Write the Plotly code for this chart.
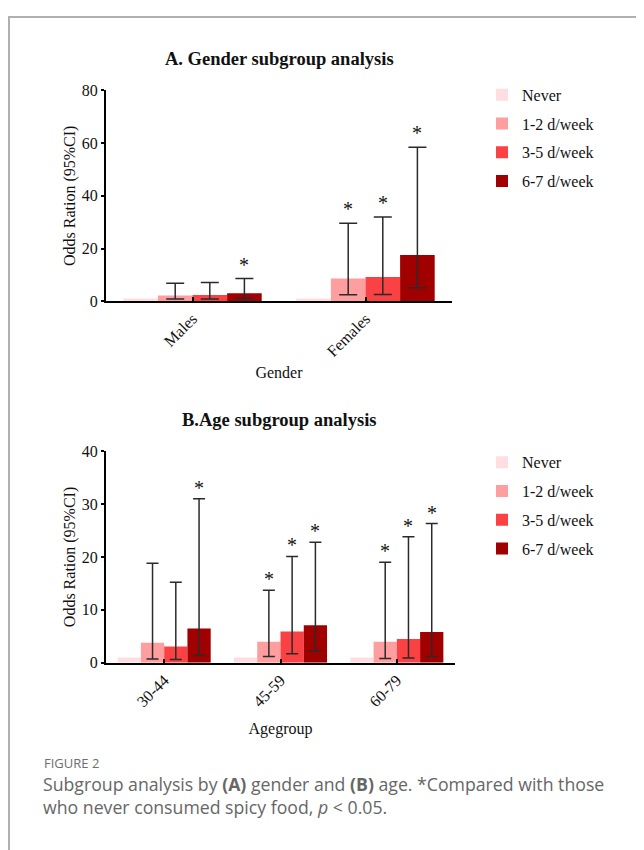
import plotly.graph_objects as go

# ---------------- data ----------------
series = ["Never", "1-2 d/week", "3-5 d/week", "6-7 d/week"]
colors = ["#FFDDE0", "#FF9E9E", "#FA4245", "#A00000"]

gender_cats = ["Males", "Females"]
gender_or = [[1.0, 1.0], [2.2, 8.6], [2.3, 9.2], [3.0, 17.5]]
gender_lo = [[None, None], [0.8, 2.4], [0.8, 2.5], [1.0, 5.1]]
gender_hi = [[None, None], [6.8, 29.6], [7.1, 32.0], [8.6, 58.4]]
gender_sig = [[False, False], [False, True], [False, True], [True, True]]

age_cats = ["30-44", "45-59", "60-79"]
age_or = [[1.0, 1.0, 1.0], [3.8, 4.0, 4.0], [3.1, 5.9, 4.5], [6.5, 7.1, 5.8]]
age_lo = [[None, None, None], [0.7, 1.2, 0.8], [0.6, 1.7, 0.9], [1.4, 2.2, 1.2]]
age_hi = [[None, None, None], [18.8, 13.7, 19.0], [15.2, 20.1, 23.8], [31.0, 22.8, 26.3]]
age_sig = [[False, False, False], [False, True, True], [False, True, True], [True, True, True]]

# the page's 8px body margin shifts the figure; positions below are page pixels
OFF = 8
W, H = 644, 850
SERIF = "Liberation Serif"

def px(x):
    return (x - OFF) / W

def py(y):
    return 1 - (y - OFF) / H

fig = go.Figure()

def add_panel(cats, vals, lo, hi, sig, xa, ya, legend, capw, star_shift, star_size):
    n = len(cats)
    xs = list(range(n))
    for j, name in enumerate(series):
        v = vals[j]
        has_err = all(h is not None for h in hi[j])
        err = None
        if has_err:
            err = dict(type="data", symmetric=False,
                       array=[h - a for h, a in zip(hi[j], v)],
                       arrayminus=[a - l for a, l in zip(v, lo[j])],
                       color="#2a2a2a", thickness=1.5, width=capw)
        fig.add_trace(go.Bar(
            x=xs, y=v, name=name, marker=dict(color=colors[j], line=dict(width=0)),
            error_y=err, xaxis=xa, yaxis=ya, legend=legend, legendgroup=legend + str(j),
            offsetgroup=str(j), hoverinfo="skip"))
        for i in range(n):
            if sig[j][i]:
                fig.add_annotation(
                    x=i + (j - 1.5) * 0.2, y=hi[j][i], xref=xa, yref=ya,
                    text="*", showarrow=False, yanchor="bottom", yshift=star_shift,
                    font=dict(family=SERIF, size=star_size, color="#111"))

add_panel(gender_cats, gender_or, gender_lo, gender_hi, gender_sig, "x", "y", "legend", 9, 1, 20)
add_panel(age_cats, age_or, age_lo, age_hi, age_sig, "x2", "y2", "legend2", 6, -2, 20)

axis_common = dict(showline=True, linecolor="black", linewidth=2, showgrid=False,
                   zeroline=False, tickfont=dict(family=SERIF, size=16, color="#111"),
                   tickcolor="black", tickwidth=2)
title_font = dict(family=SERIF, size=16, color="#111")

fig.update_layout(
    width=W, height=H, margin=dict(l=0, r=0, t=0, b=0),
    paper_bgcolor="white", plot_bgcolor="white",
    barmode="group", bargap=0.2, bargroupgap=0,
    xaxis=dict(domain=[px(106), px(452)], anchor="y", range=[-0.5, 1.5],
               tickvals=[0, 1], ticktext=gender_cats, tickangle=-45,
               ticks="inside", ticklen=4,
               title=dict(text="Gender", font=title_font, standoff=8),
               **axis_common),
    yaxis=dict(domain=[py(299), py(84)], anchor="x", range=[0, 80], dtick=20,
               ticks="outside", ticklen=3,
               title=dict(text="Odds Ration (95%CI)", font=title_font, standoff=2),
               **axis_common),
    xaxis2=dict(domain=[px(106), px(455)], anchor="y2", range=[-0.5, 2.5],
                tickvals=[0, 1, 2], ticktext=age_cats, tickangle=-45,
                ticks="inside", ticklen=4,
                title=dict(text="Agegroup", font=title_font, standoff=14),
                **axis_common),
    yaxis2=dict(domain=[py(668), py(452)], anchor="x2", range=[0, 40], dtick=10,
                ticks="outside", ticklen=3,
                title=dict(text="Odds Ration (95%CI)", font=title_font, standoff=2),
                **axis_common),
    legend=dict(x=px(482), y=py(71), xanchor="left", yanchor="top", traceorder="grouped",
                tracegroupgap=5, font=dict(family=SERIF, size=16, color="#111"),
                bgcolor="rgba(0,0,0,0)", itemwidth=30),
    legend2=dict(x=px(482), y=py(446), xanchor="left", yanchor="top", traceorder="grouped",
                 tracegroupgap=5, font=dict(family=SERIF, size=16, color="#111"),
                 bgcolor="rgba(0,0,0,0)", itemwidth=30),
)

# panel titles
fig.add_annotation(x=px(279), y=py(52), xref="paper", yref="paper", showarrow=False,
                   yanchor="middle", text="<b>A. Gender subgroup analysis</b>",
                   font=dict(family=SERIF, size=18.5, color="#111"))
fig.add_annotation(x=px(279), y=py(420), xref="paper", yref="paper", showarrow=False,
                   yanchor="middle", text="<b>B.Age subgroup analysis</b>",
                   font=dict(family=SERIF, size=18.5, color="#111"))

# caption
fig.add_annotation(x=px(42), y=py(770), xref="paper", yref="paper", showarrow=False,
                   xanchor="left", yanchor="middle", text="FIGURE 2",
                   font=dict(family="Open Sans", size=13, color="#6e6e6e"))
fig.add_annotation(x=px(41), y=py(792), xref="paper", yref="paper", showarrow=False,
                   xanchor="left", yanchor="middle",
                   text="Subgroup analysis by <b>(A)</b> gender and <b>(B)</b> age. *Compared with those",
                   font=dict(family="Open Sans", size=17.7, color="#666666"))
fig.add_annotation(x=px(41), y=py(815), xref="paper", yref="paper", showarrow=False,
                   xanchor="left", yanchor="middle",
                   text="who never consumed spicy food, <i>p</i> &lt; 0.05.",
                   font=dict(family="Open Sans", size=17.7, color="#666666"))

# frame
fig.add_shape(type="path", xref="paper", yref="paper",
              path=f"M {px(9)} {py(860)} L {px(9)} {py(9)} L {px(660)} {py(9)}",
              line=dict(color="#b0b0b0", width=2))

fig.write_html("out.html")
